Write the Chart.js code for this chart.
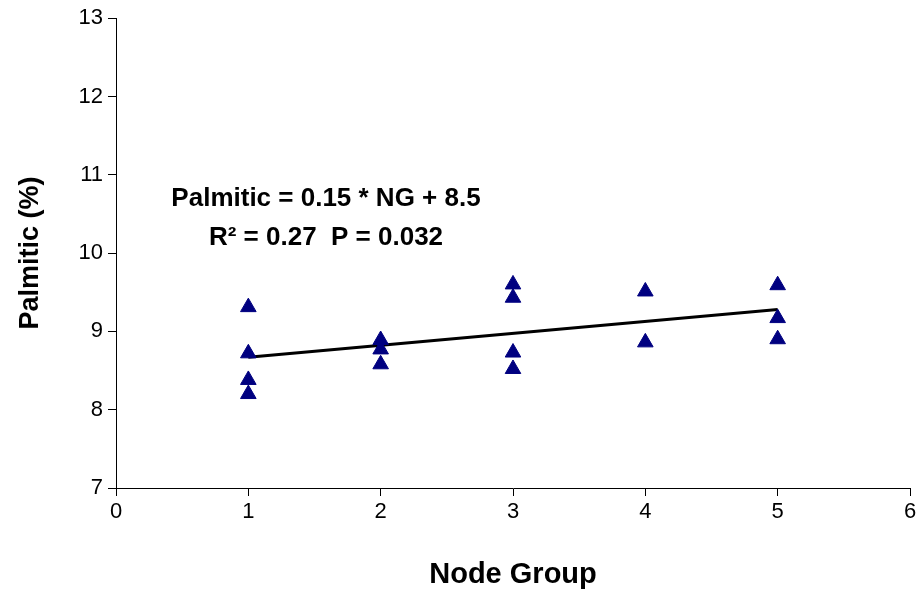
<!DOCTYPE html>
<html lang="en">
<head>
  <meta charset="UTF-8">
  <title>Palmitic vs Node Group</title>
  <script src="https://cdn.jsdelivr.net/npm/chart.js"></script>
  <style>
    html, body {
      margin: 0;
      padding: 0;
      background: #fff;
    }
  </style>
</head>
<body>
  <canvas id="palmiticChart" width="922" height="592"></canvas>

  <script>
    const nodeGroup = [1, 1, 1, 1, 2, 2, 2, 3, 3, 3, 3, 4, 4, 5, 5, 5];
    const palmitic  = [9.31, 8.72, 8.38, 8.20, 8.89, 8.77, 8.58, 9.60, 9.43, 8.73, 8.52, 9.51, 8.86, 9.59, 9.17, 8.90];

    // fitted line end points
    const fitX = [1, 5];
    const fitY = [8.67, 9.28];

    const equationLines = ['Palmitic = 0.15 * NG + 8.5', 'R\u00B2 = 0.27  P = 0.032'];

    const FONT = "'Liberation Sans', Arial, sans-serif";

    const equationPlugin = {
      id: 'equation',
      afterDraw(chart) {
        const ctx = chart.ctx;
        ctx.save();
        ctx.fillStyle = '#000';
        ctx.font = 'bold 26px ' + FONT;
        ctx.textAlign = 'center';
        ctx.textBaseline = 'middle';
        ctx.fillText(equationLines[0], 326, 199);
        ctx.fillText(equationLines[1], 326, 238);
        ctx.restore();
      }
    };

    new Chart(document.getElementById('palmiticChart'), {
      type: 'scatter',
      data: {
        datasets: [
          {
            label: 'Palmitic',
            data: nodeGroup.map((x, i) => ({ x: x, y: palmitic[i] })),
            pointStyle: 'triangle',
            pointRadius: 9,
            pointHoverRadius: 9,
            backgroundColor: '#000080',
            borderColor: '#000080',
            borderWidth: 1
          },
          {
            type: 'line',
            label: 'Fit',
            data: fitX.map((x, i) => ({ x: x, y: fitY[i] })),
            borderColor: '#000',
            borderWidth: 3,
            pointRadius: 0,
            fill: false
          }
        ]
      },
      options: {
        responsive: false,
        animation: false,
        layout: { padding: { top: 17, right: 12, left: 0, bottom: 0 } },
        plugins: {
          legend: { display: false },
          tooltip: { enabled: false }
        },
        scales: {
          x: {
            type: 'linear',
            min: 0,
            max: 6,
            afterFit: s => { s.height = 104; },
            ticks: { stepSize: 1, color: '#000', font: { family: FONT, size: 22 }, padding: 3 },
            grid: { drawOnChartArea: false, drawTicks: true, tickLength: 8, color: '#000' },
            border: { color: '#000', width: 1 },
            title: { display: true, text: 'Node Group', color: '#000', font: { family: FONT, size: 29, weight: 'bold' }, padding: { top: 0, bottom: 0 } }
          },
          y: {
            min: 7,
            max: 13,
            afterFit: s => { s.width = 116; },
            ticks: { stepSize: 1, color: '#000', font: { family: FONT, size: 22 }, padding: 5 },
            grid: { drawOnChartArea: false, drawTicks: true, tickLength: 8, color: '#000' },
            border: { color: '#000', width: 1 },
            title: { display: true, text: 'Palmitic (%)', color: '#000', font: { family: FONT, size: 27, weight: 'bold' }, padding: { top: 14, bottom: 0 } }
          }
        }
      },
      plugins: [equationPlugin]
    });
  </script>
</body>
</html>
